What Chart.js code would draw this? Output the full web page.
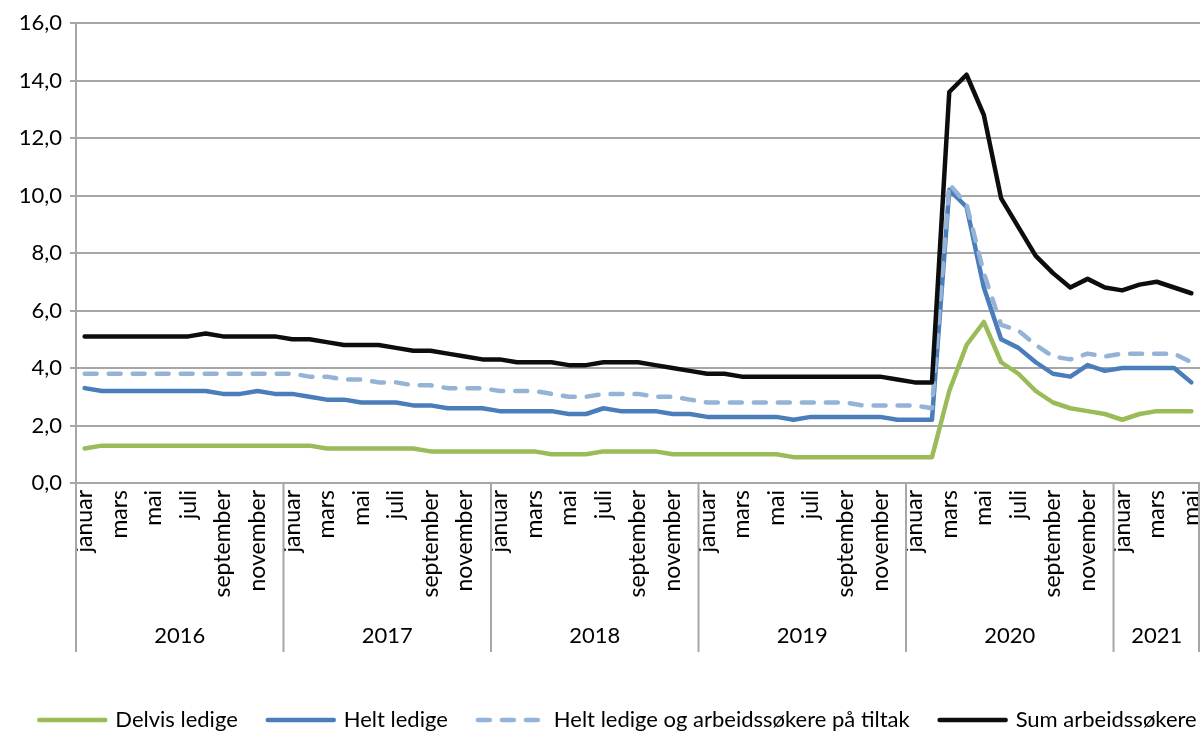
<!DOCTYPE html>
<html>
<head>
<meta charset="utf-8">
<style>
  html, body { margin: 0; padding: 0; background: #fff; }
</style>
</head>
<body>
<canvas id="ledigeChart" width="1200" height="733"></canvas>
<script src="https://cdn.jsdelivr.net/npm/chart.js@4/dist/chart.umd.min.js"></script>
<script>
// Andel ledige, prosent av arbeidsstyrken
const years = ['2016', '2017', '2018', '2019', '2020', '2021'];
const monthsPerYear = [12, 12, 12, 12, 12, 5];
const monthNames = ['januar', 'februar', 'mars', 'april', 'mai', 'juni',
  'juli', 'august', 'september', 'oktober', 'november', 'desember'];

const delvisLedige = [
  1.2, 1.3, 1.3, 1.3, 1.3, 1.3, 1.3, 1.3, 1.3, 1.3, 1.3, 1.3,
  1.3, 1.3, 1.2, 1.2, 1.2, 1.2, 1.2, 1.2, 1.1, 1.1, 1.1, 1.1,
  1.1, 1.1, 1.1, 1.0, 1.0, 1.0, 1.1, 1.1, 1.1, 1.1, 1.0, 1.0,
  1.0, 1.0, 1.0, 1.0, 1.0, 0.9, 0.9, 0.9, 0.9, 0.9, 0.9, 0.9,
  0.9, 0.9, 3.2, 4.8, 5.6, 4.2, 3.8, 3.2, 2.8, 2.6, 2.5, 2.4,
  2.2, 2.4, 2.5, 2.5, 2.5
];
const heltLedige = [
  3.3, 3.2, 3.2, 3.2, 3.2, 3.2, 3.2, 3.2, 3.1, 3.1, 3.2, 3.1,
  3.1, 3.0, 2.9, 2.9, 2.8, 2.8, 2.8, 2.7, 2.7, 2.6, 2.6, 2.6,
  2.5, 2.5, 2.5, 2.5, 2.4, 2.4, 2.6, 2.5, 2.5, 2.5, 2.4, 2.4,
  2.3, 2.3, 2.3, 2.3, 2.3, 2.2, 2.3, 2.3, 2.3, 2.3, 2.3, 2.2,
  2.2, 2.2, 10.2, 9.6, 6.8, 5.0, 4.7, 4.2, 3.8, 3.7, 4.1, 3.9,
  4.0, 4.0, 4.0, 4.0, 3.5
];
const heltLedigeTiltak = [
  3.8, 3.8, 3.8, 3.8, 3.8, 3.8, 3.8, 3.8, 3.8, 3.8, 3.8, 3.8,
  3.8, 3.7, 3.7, 3.6, 3.6, 3.5, 3.5, 3.4, 3.4, 3.3, 3.3, 3.3,
  3.2, 3.2, 3.2, 3.1, 3.0, 3.0, 3.1, 3.1, 3.1, 3.0, 3.0, 2.9,
  2.8, 2.8, 2.8, 2.8, 2.8, 2.8, 2.8, 2.8, 2.8, 2.7, 2.7, 2.7,
  2.7, 2.6, 10.4, 9.7, 7.3, 5.5, 5.3, 4.8, 4.4, 4.3, 4.5, 4.4,
  4.5, 4.5, 4.5, 4.5, 4.2
];
const sumArbeidssokere = [
  5.1, 5.1, 5.1, 5.1, 5.1, 5.1, 5.1, 5.2, 5.1, 5.1, 5.1, 5.1,
  5.0, 5.0, 4.9, 4.8, 4.8, 4.8, 4.7, 4.6, 4.6, 4.5, 4.4, 4.3,
  4.3, 4.2, 4.2, 4.2, 4.1, 4.1, 4.2, 4.2, 4.2, 4.1, 4.0, 3.9,
  3.8, 3.8, 3.7, 3.7, 3.7, 3.7, 3.7, 3.7, 3.7, 3.7, 3.7, 3.6,
  3.5, 3.5, 13.6, 14.2, 12.8, 9.9, 8.9, 7.9, 7.3, 6.8, 7.1, 6.8,
  6.7, 6.9, 7.0, 6.8, 6.6
];

const labels = [];
years.forEach((yr, k) => {
  for (let m = 0; m < monthsPerYear[k]; m++) labels.push(monthNames[m]);
});

const gridColor = '#a6a6a6';
const fontFamily = 'Lato, "Liberation Sans", sans-serif';
const fontSize = 22;

// year row and separators under the month labels
const yearGroups = {
  id: 'yearGroups',
  afterDraw(chart) {
    const { ctx, chartArea } = chart;
    const x = chart.scales.x;
    const half = (x.getPixelForValue(1) - x.getPixelForValue(0)) / 2;
    const top = chartArea.bottom;
    const bottom = top + 169;
    ctx.save();
    ctx.strokeStyle = gridColor;
    ctx.lineWidth = 2;
    ctx.fillStyle = '#000';
    ctx.font = fontSize + 'px ' + fontFamily;
    ctx.textAlign = 'center';
    ctx.textBaseline = 'middle';
    let start = 0;
    years.forEach((yr, k) => {
      const left = x.getPixelForValue(start) - half;
      const right = x.getPixelForValue(start + monthsPerYear[k] - 1) + half;
      ctx.beginPath();
      ctx.moveTo(left, top);
      ctx.lineTo(left, bottom);
      if (k === years.length - 1) {
        ctx.moveTo(right - 1, top);
        ctx.lineTo(right - 1, bottom);
      }
      ctx.stroke();
      ctx.fillText(yr, (left + right) / 2, top + 153);
      start += monthsPerYear[k];
    });
    ctx.restore();
  }
};

// one-row legend like Excel's (Chart.js wraps it at this width)
const legendRow = {
  id: 'legendRow',
  afterDraw(chart) {
    const { ctx } = chart;
    const sets = chart.data.datasets;
    const lineLen = 70, gap = 8, spacing = 28;
    ctx.save();
    ctx.font = fontSize + 'px ' + fontFamily;
    const widths = sets.map(ds => ctx.measureText(ds.label).width);
    const total = widths.reduce((a, w) => a + lineLen + gap + w, 0) + spacing * (sets.length - 1);
    let cx = chart.width / 2 + 17 - total / 2;
    const cy = chart.height - 13;
    ctx.textAlign = 'left';
    ctx.textBaseline = 'middle';
    sets.forEach((ds, i) => {
      ctx.strokeStyle = ds.borderColor;
      ctx.lineWidth = ds.borderWidth;
      ctx.lineCap = 'round';
      ctx.setLineDash(ds.borderDash || []);
      ctx.beginPath();
      ctx.moveTo(cx + 2, cy);
      ctx.lineTo(cx + lineLen - 2, cy);
      ctx.stroke();
      ctx.setLineDash([]);
      ctx.fillStyle = '#000';
      ctx.fillText(ds.label, cx + lineLen + gap, cy);
      cx += lineLen + gap + widths[i] + spacing;
    });
    ctx.restore();
  }
};

Chart.defaults.font.family = fontFamily;
Chart.defaults.font.size = fontSize;
Chart.defaults.color = '#000';

const ctx = document.getElementById('ledigeChart').getContext('2d');
new Chart(ctx, {
  type: 'line',
  data: {
    labels: labels,
    datasets: [
      {
        label: 'Delvis ledige',
        data: delvisLedige,
        borderColor: '#9BBB59',
        borderWidth: 4.5,
        order: 4
      },
      {
        label: 'Helt ledige',
        data: heltLedige,
        borderColor: '#4A7EBB',
        borderWidth: 4.5,
        order: 3
      },
      {
        label: 'Helt ledige og arbeidssøkere på tiltak',
        data: heltLedigeTiltak,
        borderColor: '#95B3D7',
        borderWidth: 4.5,
        borderDash: [12, 12],
        order: 2
      },
      {
        label: 'Sum arbeidssøkere',
        data: sumArbeidssokere,
        borderColor: '#0D0D0D',
        borderWidth: 4.5,
        order: 1
      }
    ]
  },
  options: {
    responsive: false,
    animation: false,
    layout: {
      padding: { top: 23, right: 0, bottom: 50, left: 0 }
    },
    elements: {
      point: { radius: 0 },
      line: { tension: 0, borderCapStyle: 'round', borderJoinStyle: 'round', fill: false }
    },
    scales: {
      x: {
        offset: true,
        afterFit: (scale) => {
          scale.height = 200;
          scale.paddingLeft = 0;
          scale.paddingRight = 0;
        },
        grid: { display: false, drawTicks: false },
        border: { display: true, color: gridColor, width: 2 },
        ticks: {
          autoSkip: false,
          minRotation: 90,
          maxRotation: 90,
          padding: 7,
          font: { size: 23 },
          callback: function (value, index) {
            return index % 2 === 0 ? this.getLabelForValue(value) : '';
          }
        }
      },
      y: {
        min: 0,
        max: 16,
        afterFit: (scale) => { scale.width = 76; },
        grid: { color: gridColor, lineWidth: 2, tickLength: 6 },
        border: { display: true, color: gridColor, width: 2 },
        ticks: {
          stepSize: 2,
          padding: 8,
          callback: (value) => value.toFixed(1).replace('.', ',')
        }
      }
    },
    plugins: {
      tooltip: { enabled: false },
      legend: { display: false }
    }
  },
  plugins: [yearGroups, legendRow]
});
</script>
</body>
</html>
